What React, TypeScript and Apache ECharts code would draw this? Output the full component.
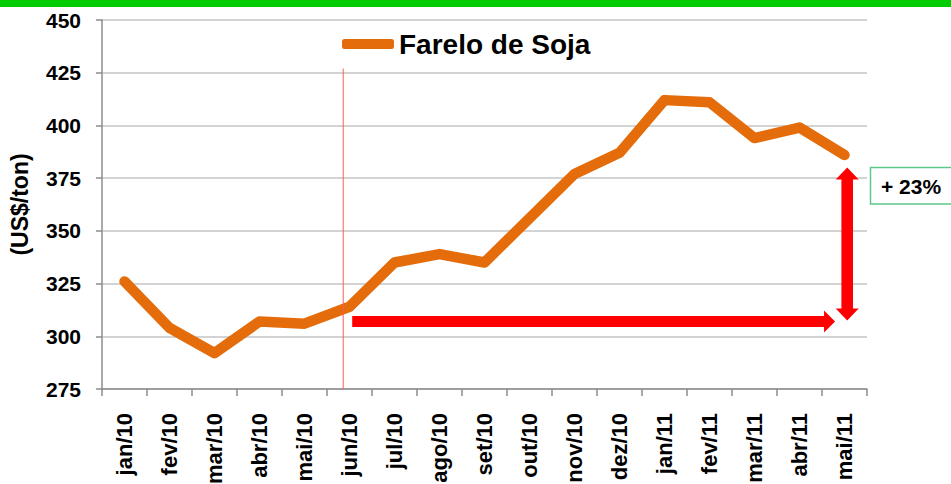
import React, { useEffect, useRef } from "react";
import * as echarts from "echarts";

const months = [
  "jan/10", "fev/10", "mar/10", "abr/10", "mai/10", "jun/10", "jul/10", "ago/10",
  "set/10", "out/10", "nov/10", "dez/10", "jan/11", "fev/11", "mar/11", "abr/11", "mai/11",
];
const fareloDeSoja = [326, 304, 292, 307, 306, 314, 335, 339, 335, 356, 377, 387, 412, 411, 394, 399, 386];
const seriesName = "Farelo de Soja";
const yMin = 275;
const yMax = 450;
const yStep = 25;

// annotation anchors (category index may be fractional, values in US$/ton)
const dividerIndex = 4.86;
const dividerTop = 427;
const baseArrow = { fromIndex: 5.06, toIndex: 15.79, value: 307 };
const changeArrow = { index: 16.06, top: 380, bottom: 307.5 };
const changeLabel = "+ 23%";

const FONT = "'Liberation Sans', Arial, sans-serif";

export default function App() {
  const ref = useRef<HTMLDivElement>(null);

  useEffect(() => {
    document.body.style.margin = "0";
    const chart = echarts.init(ref.current!, null, { renderer: "svg" });
    chart.setOption({
      animation: false,
      backgroundColor: "#fff",
      textStyle: { fontFamily: FONT },
      grid: { left: 102, top: 20, right: 84, bottom: 95, containLabel: false, outerBoundsMode: "none" },
      legend: {
        data: [seriesName],
        left: 337,
        top: 25,
        icon: "roundRect",
        itemWidth: 52,
        itemHeight: 10,
        textStyle: { fontSize: 28, fontWeight: "bold", color: "#000", fontFamily: FONT },
      },
      xAxis: {
        type: "category",
        data: months,
        boundaryGap: true,
        axisLine: { lineStyle: { color: "#8c8c8c", width: 1.5 } },
        axisTick: { show: true, length: 7, interval: 0, lineStyle: { color: "#8c8c8c", width: 1.5 } },
        axisLabel: {
          rotate: 90,
          interval: 0,
          margin: 24,
          fontSize: 22,
          fontWeight: "bold",
          color: "#000",
          fontFamily: FONT,
        },
        splitLine: { show: false },
      },
      yAxis: {
        type: "value",
        min: yMin,
        max: yMax,
        interval: yStep,
        name: "(US$/ton)",
        nameLocation: "middle",
        nameRotate: 90,
        nameGap: 71,
        nameTextStyle: { fontSize: 23, fontWeight: "bold", color: "#000", fontFamily: FONT },
        axisLine: { show: true, lineStyle: { color: "#8c8c8c", width: 1.5 } },
        axisTick: { show: true, length: 6, lineStyle: { color: "#8c8c8c", width: 1.5 } },
        axisLabel: { margin: 21, fontSize: 21, fontWeight: "bold", color: "#000", fontFamily: FONT },
        splitLine: { lineStyle: { color: "#c4c4c4", width: 1.5 } },
      },
      series: [
        {
          name: seriesName,
          type: "line",
          data: fareloDeSoja,
          symbol: "none",
          color: "#E46C0A",
          lineStyle: { width: 10.5, color: "#E46C0A", cap: "round", join: "round" },
          z: 3,
        },
      ],
    });

    const p0 = chart.convertToPixel({ gridIndex: 0 }, [0, yMin]) as number[];
    const p1 = chart.convertToPixel({ gridIndex: 0 }, [1, yMin]) as number[];
    const xAt = (i: number) => p0[0] + (p1[0] - p0[0]) * i;
    const yAt = (v: number) => (chart.convertToPixel({ gridIndex: 0 }, [0, v]) as number[])[1];

    const red = "#FF0000";
    // horizontal arrow
    const hx1 = xAt(baseArrow.fromIndex);
    const hx2 = xAt(baseArrow.toIndex);
    const hy = yAt(baseArrow.value);
    const sh = 5.5, hh = 11, hl = 11;
    const hPoints = [
      [hx1, hy - sh], [hx2 - hl, hy - sh], [hx2 - hl, hy - hh], [hx2, hy],
      [hx2 - hl, hy + hh], [hx2 - hl, hy + sh], [hx1, hy + sh],
    ];
    // vertical double arrow
    const vx = xAt(changeArrow.index);
    const vt = yAt(changeArrow.top);
    const vb = yAt(changeArrow.bottom);
    const vs = 5.8, vh = 11.5, vl = 12;
    const vPoints = [
      [vx, vt], [vx + vh, vt + vl], [vx + vs, vt + vl], [vx + vs, vb - vl], [vx + vh, vb - vl],
      [vx, vb], [vx - vh, vb - vl], [vx - vs, vb - vl], [vx - vs, vt + vl], [vx - vh, vt + vl],
    ];
    const dx = xAt(dividerIndex);

    chart.setOption({
      graphic: [
        { type: "rect", shape: { x: 0, y: 0, width: 951, height: 7 }, style: { fill: "#00CC00" }, z: 10 },
        {
          type: "line",
          shape: { x1: dx, y1: yAt(dividerTop), x2: dx, y2: yAt(yMin) },
          style: { stroke: "#FF5a5a", lineWidth: 1 },
          z: 5,
        },
        { type: "polygon", shape: { points: hPoints }, style: { fill: red }, z: 6 },
        { type: "polygon", shape: { points: vPoints }, style: { fill: red }, z: 6 },
        {
          type: "rect",
          shape: { x: 870.5, y: 167.5, width: 90, height: 36.5 },
          style: { fill: "#fff", stroke: "#5cc98a", lineWidth: 1.5 },
          z: 6,
        },
        {
          type: "text",
          x: 881,
          y: 186,
          style: {
            text: changeLabel,
            font: `bold 21px ${FONT}`,
            fill: "#000",
            textVerticalAlign: "middle",
            verticalAlign: "middle",
          },
          z: 7,
        },
      ],
    });

    return () => chart.dispose();
  }, []);

  return (
    <div
      ref={ref}
      style={{ position: "absolute", left: 0, top: 0, width: 951, height: 484 }}
    />
  );
}
